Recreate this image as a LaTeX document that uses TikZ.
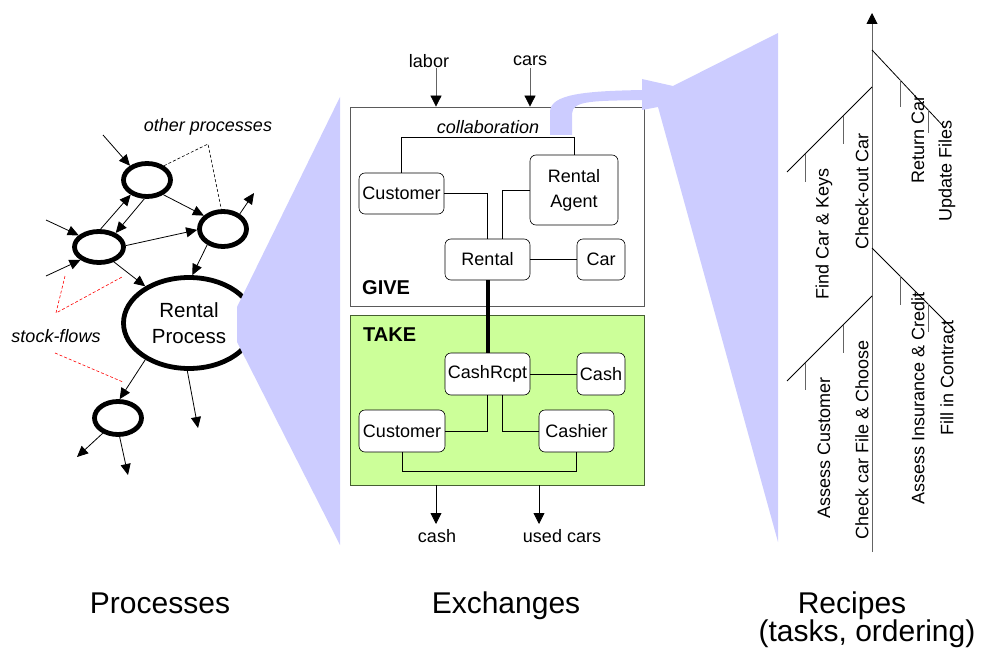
\documentclass[tikz,border=0pt]{standalone}
\usepackage{fontspec}
\setmainfont{Liberation Sans}
\usetikzlibrary{arrows.meta,shapes.geometric}
\definecolor{lav}{RGB}{204,204,255}
\definecolor{takegreen}{RGB}{204,255,153}
\definecolor{takeborder}{RGB}{70,95,50}
\definecolor{giveborder}{RGB}{90,90,90}
\definecolor{fbgray}{RGB}{100,100,100}
\begin{document}
\begin{tikzpicture}[x=1pt,y=-1pt,
  proc/.style={ellipse,draw,line width=4.8pt,inner sep=0pt},
  flow/.style={-{Triangle[length=11pt,width=10pt]},line width=0.8pt},
  inarr/.style={-{Triangle[length=11pt,width=11pt,color=black]},line width=0.8pt,draw=fbgray},
  rbox/.style={draw,fill=white,rounded corners=6pt,inner sep=0pt,line width=0.6pt,
    font=\fontsize{18}{25}\selectfont,align=center},
  lbl/.style={font=\fontsize{18}{21}\selectfont,inner sep=0pt},
  ilbl/.style={font=\fontsize{18}{21}\selectfont\itshape,inner sep=0pt},
  biglbl/.style={font=\fontsize{30}{36}\selectfont,inner sep=0pt,anchor=base},
  vlbl/.style={font=\fontsize{18}{21}\selectfont,inner sep=0pt,rotate=90,anchor=east},
  conn/.style={line width=0.7pt},
  stock/.style={red,dashed,line width=0.6pt,dash pattern=on 3pt off 2pt},
  bone/.style={line width=0.8pt},
  tick/.style={line width=0.8pt,draw=fbgray}]
\useasboundingbox (0,0) rectangle (981,647);

% ---------------- Processes ----------------
\node[proc,minimum width=47pt,minimum height=33pt] (A) at (147,180) {};
\node[proc,minimum width=49pt,minimum height=31pt] (B) at (99,247) {};
\node[proc,minimum width=47pt,minimum height=35pt] (C) at (223,229) {};
\node[proc,minimum width=131pt,minimum height=91pt,
  font=\fontsize{20.5}{26}\selectfont,align=center] (P) at (189,323) {Rental\\Process};
\node[proc,minimum width=47pt,minimum height=33pt] (D) at (118,418) {};

\coordinate (ain) at (103,135);
\coordinate (cout) at (254,193);
\coordinate (bin1) at (46,220);
\coordinate (bin2) at (46,276);
\coordinate (pout) at (198,428);
\coordinate (dout1) at (77,457);
\coordinate (dout2) at (128,475);

\draw[flow] (ain) -- (A.140);
\draw[flow] (A.262) -- (B.40);
\draw[flow] (B.85) -- (A.222);
\draw[flow] (A.318) -- (C.145);
\draw[flow] (B.3) -- (C.182);
\draw[flow] (C.42) -- (cout);
\draw[flow] (C.225) -- (P.86);
\draw[flow] (bin1) -- (B.150);
\draw[flow] (bin2) -- (B.215);
\draw[flow] (B.315) -- (P.140);
\draw[flow] (P.220) -- (D.85);
\draw[flow] (P.268) -- (pout);
\draw[flow] (D.225) -- (dout1);
\draw[flow] (D.275) -- (dout2);

\node[ilbl] (otherp) at (208,127) {other processes};
\coordinate (opc) at (208,144);
\draw[dashed,line width=0.6pt,dash pattern=on 3pt off 2pt] (A.40) -- (opc) -- (C.95);

\node[ilbl] (stockf) at (56,336) {stock-flows};
\coordinate (sft) at (56,313);
\coordinate (sfa) at (65,276);
\coordinate (sfb) at (122,277);
\coordinate (sfl) at (55,353);
\coordinate (sfc) at (123,382);
\draw[stock] (sfa) -- (sft) -- (sfb);
\draw[stock] (sfl) -- (sfc);

% left lavender wedge
\fill[lav] (340,97) -- (237,307) -- (237,342) -- (340,545) -- cycle;

% ---------------- Exchanges ----------------
\node[draw=giveborder,line width=0.8pt,minimum width=294pt,minimum height=199pt,inner sep=0pt] (give) at (497,206.5) {};
\node[draw=takeborder,fill=takegreen,line width=0.8pt,minimum width=294pt,minimum height=170pt,inner sep=0pt] (take) at (497,400) {};

\node[lbl] (labor) at (429,61) {labor};
\node[lbl] (cars) at (530,61) {cars};
\coordinate (laborin) at (436,68);
\coordinate (carsin) at (530,68);
\draw[inarr] (laborin) -- (laborin |- give.north);
\draw[inarr] (carsin) -- (carsin |- give.north);

\node[ilbl] (collab) at (488,127) {collaboration};
\node[font=\fontsize{20}{24}\selectfont\bfseries,inner sep=0pt,anchor=west] (givel) at (362,288) {GIVE};
\node[font=\fontsize{20}{24}\selectfont\bfseries,inner sep=0pt,anchor=west] (takel) at (363,335) {TAKE};

\node[rbox,minimum width=85pt,minimum height=41pt] (cust1) at (401.5,193.5) {Customer};
\node[rbox,minimum width=88pt,minimum height=70pt] (agent) at (574,190) {Rental\\Agent};
\node[rbox,minimum width=85pt,minimum height=41pt] (rental) at (487.5,259.5) {Rental};
\node[rbox,minimum width=48pt,minimum height=41pt] (car) at (601,259.5) {Car};

\draw[conn] (cust1.north) -- ++(0,-35) -| (agent.north);
\draw[conn] (cust1.east) -| (rental.north);
\draw[conn] (agent.west) -| ([xshift=14.5pt]rental.north);
\draw[conn] (rental) -- (car);

\node[rbox,minimum width=85pt,minimum height=42pt] (rcpt) at (487.5,374) {CashRcpt};
\node[rbox,minimum width=48pt,minimum height=42pt] (cash) at (601,374) {Cash};
\node[rbox,minimum width=86pt,minimum height=42pt] (cust2) at (402,431) {Customer};
\node[rbox,minimum width=75pt,minimum height=42pt] (cashier) at (576.5,431) {Cashier};

\draw[line width=4pt] (rental.south) -- (rcpt.north);
\draw[conn] (rcpt) -- (cash);
\draw[conn] (rcpt.south) |- (cust2.east);
\draw[conn] ([xshift=14.5pt]rcpt.south) |- (cashier.west);
\draw[conn] (cust2.south) -- ++(0,19) -| (cashier.south);

\coordinate (casha) at (436,485);
\coordinate (cashb) at (436,524);
\coordinate (useda) at (539,485);
\coordinate (usedb) at (539,524);
\draw[inarr,draw=black] (casha) -- (cashb);
\draw[inarr,draw=black] (useda) -- (usedb);
\node[lbl] (cashl) at (437,536) {cash};
\node[lbl] (usedl) at (562,536) {used cars};

% collaboration band and right wedge
\fill[lav] (550,135) -- (550,112) .. controls (550,94) and (585,91) .. (643,90)
  -- (643,100) .. controls (595,101) and (572,100) .. (572,114) -- (572,135) -- cycle;
\fill[lav] (642,79) -- (673,86) -- (778,33) -- (778,542) -- (658,107) -- (642,110) -- cycle;

% ---------------- Recipes ----------------
\coordinate (fbbot) at (872,552);
\coordinate (fbtop) at (872,13);
\draw[line width=0.9pt,draw=fbgray,-{Triangle[length=11pt,width=11pt,color=black]}] (fbbot) -- (fbtop);

% upper right branch
\coordinate (ur0) at (872,50); \coordinate (ur1) at (945,128);
\draw[bone] (ur0) -- (ur1);
\draw[tick] (900,80) -- (900,107);
\draw[tick] (928,110) -- (928,133);
% upper left branch
\coordinate (ul0) at (872,87); \coordinate (ul1) at (787,172);
\draw[bone] (ul0) -- (ul1);
\draw[tick] (843,116) -- (843,144);
\draw[tick] (805,154) -- (805,182);
% lower right branch
\coordinate (lr0) at (872,248); \coordinate (lr1) at (955,331);
\draw[bone] (lr0) -- (lr1);
\draw[tick] (900,276) -- (900,305);
\draw[tick] (928,304) -- (928,332);
% lower left branch
\coordinate (ll0) at (872,296); \coordinate (ll1) at (787,381);
\draw[bone] (ll0) -- (ll1);
\draw[tick] (843,325) -- (843,353);
\draw[tick] (805,363) -- (805,390);

\node[vlbl] (t1) at (824,168) {Find Car \& Keys};
\node[vlbl] (t2) at (862,133) {Check-out Car};
\node[vlbl] (t3) at (918,95) {Return Car};
\node[vlbl] (t4) at (947,120) {Update Files};
\node[vlbl] (t5) at (824,377) {Assess Customer};
\node[vlbl] (t6) at (862,340) {Check car File \& Choose};
\node[vlbl] (t7) at (918,292) {Assess Insurance \& Credit};
\node[vlbl] (t8) at (947,320) {Fill in Contract};

% ---------------- captions ----------------
\node[biglbl] (cap1) at (160,613) {Processes};
\node[biglbl] (cap2) at (506,613) {Exchanges};
\node[biglbl] (cap3) at (852,613) {Recipes};
\node[biglbl] (cap4) at (867,641) {(tasks, ordering)};
\end{tikzpicture}
\end{document}
